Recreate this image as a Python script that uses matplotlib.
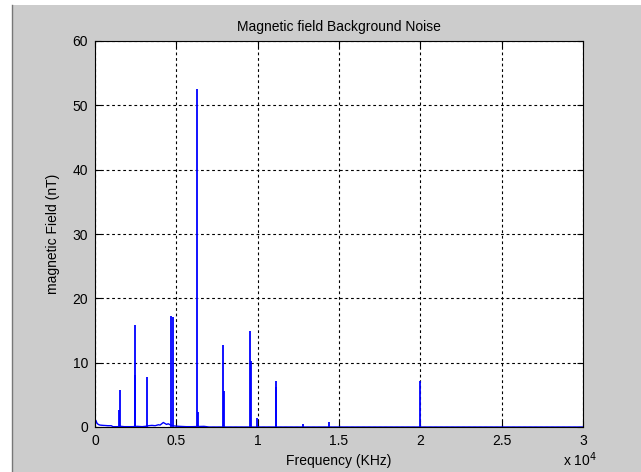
import numpy as np
import matplotlib
matplotlib.use('Agg')
import matplotlib.pyplot as plt
from matplotlib.patches import Rectangle
from matplotlib.lines import Line2D

plt.rcParams['font.family'] = ['Liberation Sans', 'DejaVu Sans']

# spike lines (frequency in Hz, amplitude in nT)
spike_freq = [30, 1500, 1540, 2450, 2480, 3180, 4700, 4780, 6290, 6330,
              7880, 7910, 9530, 9560, 9980, 11100, 11140, 12760, 14380, 19980]
spike_amp = [1.5, 2.6, 5.7, 15.9, 8.1, 7.8, 17.3, 17.1, 52.5, 2.4,
             12.7, 5.6, 15.0, 10.3, 1.4, 6.2, 7.1, 0.5, 0.7, 7.1]

# low level noise floor
noise_freq = [0, 60, 120, 200, 300, 500, 800, 1000, 1100, 1200, 1400, 1600,
              1800, 2000, 2300, 2600, 2900, 3100, 3300, 3500, 3700, 3900,
              4000, 4100, 4200, 4300, 4400, 4500, 4650, 4900, 5200, 5600,
              6000, 6700, 7000, 8500, 10500, 12000, 16000, 22000, 30000]
noise_amp = [0.2, 1.0, 0.6, 0.4, 0.3, 0.25, 0.2, 0.2, 0.05, 0.05, 0.05, 0.1,
             0.05, 0.05, 0.05, 0.1, 0.05, 0.1, 0.2, 0.25, 0.2, 0.35,
             0.3, 0.5, 0.7, 0.55, 0.4, 0.5, 0.3, 0.15, 0.1, 0.05,
             0.05, 0.1, 0.0, 0.0, 0.0, 0.0, 0.0, 0.0, 0.0]

xticks = [0, 5000, 10000, 15000, 20000, 25000, 30000]
xticklabels = ['0', '0.5', '1', '1.5', '2', '2.5', '3']
yticks = [0, 10, 20, 30, 40, 50, 60]

fig = plt.figure(figsize=(6.41, 4.72), dpi=100, facecolor='white')
# matlab style grey window
fig.patches.append(Rectangle((12 / 641, 0), 1, (472 - 4.5) / 472,
                             transform=fig.transFigure, facecolor='#cccccc',
                             edgecolor='none', zorder=-10))
fig.lines.append(Line2D([11.5 / 641, 11.5 / 641], [0, (472 - 4.5) / 472],
                        transform=fig.transFigure, color='#777777', lw=1))

ax = fig.add_axes([95 / 641, 45 / 472, 488 / 641, 386 / 472])
ax.set_facecolor('white')

ax.plot(noise_freq, noise_amp, color='blue', lw=1.0)
ax.vlines(spike_freq, 0, spike_amp, color='blue', lw=1.3)

ax.set_xlim(0, 30000)
ax.set_ylim(0, 60)
ax.set_xticks(xticks)
ax.set_xticklabels(xticklabels)
ax.set_yticks(yticks)
ax.tick_params(direction='in', length=4, width=0.8, labelsize=10,
               top=True, right=True, pad=5)
ax.grid(True, color='black', linestyle=(0, (2.5, 2.5)), lw=0.8)
for s in ax.spines.values():
    s.set_linewidth(0.8)

ax.set_title('Magnetic field Background Noise', fontsize=10, pad=7)
ax.set_xlabel('Frequency (KHz)', fontsize=10, labelpad=4)
ax.set_ylabel('magnetic Field (nT)', fontsize=10, labelpad=9)
fig.text(563 / 641, 1 - 466 / 472, r'x 10$^{4}$', fontsize=10,
         ha='left', va='baseline')

fig.savefig('out.png', dpi=100, facecolor=fig.get_facecolor())
